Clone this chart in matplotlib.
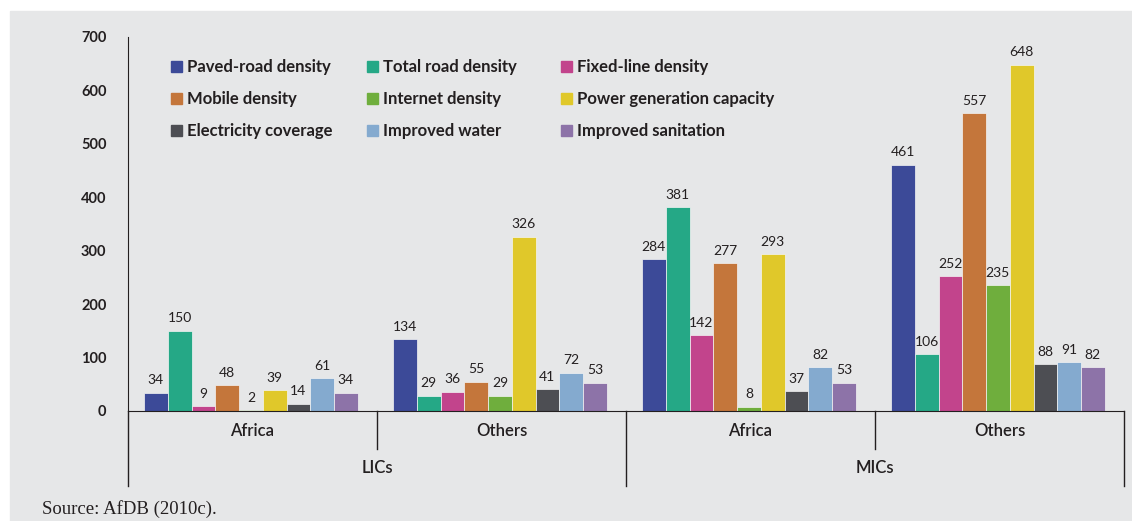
import matplotlib
matplotlib.use("Agg")
import matplotlib.pyplot as plt
from matplotlib.patches import Rectangle
from matplotlib.transforms import blended_transform_factory

series = ["Paved-road density", "Total road density", "Fixed-line density",
          "Mobile density", "Internet density", "Power generation capacity",
          "Electricity coverage", "Improved water", "Improved sanitation"]
colors = ["#3c4a98", "#25a886", "#c2448c", "#c4763b", "#6fae3d",
          "#e0c82a", "#4d4e53", "#84aacf", "#8d73a8"]
groups = ["Africa", "Others", "Africa", "Others"]
supergroups = ["LICs", "MICs"]

lic_africa = [34, 150, 9, 48, 2, 39, 14, 61, 34]
lic_others = [134, 29, 36, 55, 29, 326, 41, 72, 53]
mic_africa = [284, 381, 142, 277, 8, 293, 37, 82, 53]
mic_others = [461, 106, 252, 557, 235, 648, 88, 91, 82]
values = [lic_africa, lic_others, mic_africa, mic_others]

W, H = 1132, 521
fig = plt.figure(figsize=(W / 100, H / 100), dpi=100)
fig.patches.append(Rectangle((10 / W, 0), 1 - 10 / W, 1 - 11 / H,
                             transform=fig.transFigure, color="#e6e7e8", zorder=-10))

font = ["Lato", "DejaVu Sans"]
ink = "#231f20"

ax = fig.add_axes([128 / W, 110 / H, (1124 - 128) / W, (411 - 37) / H])
ax.set_facecolor("none")

bw = 23.75 / 249
off0 = 16 / 249
for g, vals in enumerate(values):
    for i, v in enumerate(vals):
        x = g - 0.5 + off0 + bw * (i + 0.5)
        ax.bar(x, v, width=bw, color=colors[i], edgecolor="#f4f4f4", linewidth=0.5)
        ax.text(x, v + 12, str(v), ha="center", va="bottom", fontsize=10,
                family=font, color=ink)

ax.set_xlim(-0.5, 3.5)
ax.set_ylim(0, 700)
ax.set_yticks(range(0, 701, 100))
ax.tick_params(axis="y", length=0, pad=15.5, labelsize=10.5)
for lab in ax.get_yticklabels():
    lab.set_fontweight("bold")
    lab.set_family(font)
    lab.set_color(ink)
ax.set_xticks([])
for s in ["top", "right"]:
    ax.spines[s].set_visible(False)
ax.spines["left"].set_color(ink)
ax.spines["bottom"].set_color(ink)

# category axis below
tr = blended_transform_factory(ax.transData, ax.transAxes)
px = 1 / (411 - 37)
for b in [-0.5, 1.5, 3.5]:
    ax.plot([b, b], [0, -(486 - 411) * px], transform=tr, color=ink,
            lw=1, clip_on=False)
for b in [0.5, 2.5]:
    ax.plot([b, b], [0, -(449 - 411) * px], transform=tr, color=ink,
            lw=1, clip_on=False)
for g, name in enumerate(groups):
    ax.text(g, -(431 - 411) * px, name, transform=tr, ha="center", va="center",
            fontsize=12, family=font, fontweight="semibold", color=ink)
for k, name in enumerate(supergroups):
    ax.text(2 * k + 0.5, -(468 - 411) * px, name, transform=tr, ha="center",
            va="center", fontsize=12, family=font, fontweight="semibold", color=ink)

# legend
col_x = [171, 367, 561]
row_y = [67, 99, 131]
for i, name in enumerate(series):
    r, c = i // 3, i % 3
    fig.patches.append(Rectangle((col_x[c] / W, 1 - (row_y[r] + 5) / H), 11 / W, 11 / H,
                                 transform=fig.transFigure, color=colors[i]))
    fig.text((col_x[c] + 16) / W, 1 - row_y[r] / H, name, ha="left", va="center",
             fontsize=12, fontweight="bold", family=font, color=ink)

fig.text(42 / W, 1 - 509 / H, "Source: AfDB (2010c).", ha="left", va="center",
         fontsize=13.5, family="Liberation Serif", color=ink)

fig.savefig("out.png", dpi=100)
